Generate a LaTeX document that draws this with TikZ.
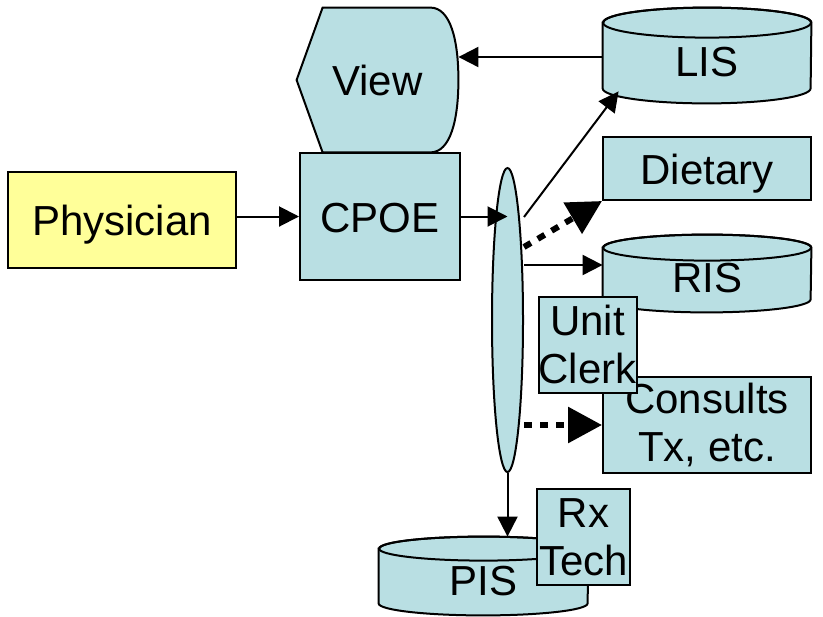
\documentclass[tikz,border=0pt]{standalone}
\usepackage{fontspec}
\setmainfont{Liberation Sans}
\usetikzlibrary{arrows.meta,calc,backgrounds,shapes.geometric}

\definecolor{boxblue}{RGB}{185,223,227}
\definecolor{boxyellow}{RGB}{255,255,153}

\tikzset{
  box/.style={draw, line width=1pt, fill=boxblue, inner sep=0pt, align=center,
    font=\fontsize{21}{24}\selectfont},
  oneline/.style={text height=18.5pt, text depth=3pt},
  dbody/.style={inner sep=0pt, minimum width=104pt, font=\fontsize{21}{24}\selectfont},
  arr/.style={line width=1pt, -{Triangle[length=10pt,width=10pt]}},
  dotarr/.style={line width=3pt, dash pattern=on 4pt off 4pt,
    -{Triangle[length=17pt,width=17.5pt]}},
}

% cylinder round a body node: name, x radius, y radius
\newcommand{\dbshape}[3]{%
  \draw[line width=1pt, fill=boxblue] (#1.north west) -- (#1.south west)
    arc[start angle=180, end angle=360, x radius=#2, y radius=#3] -- (#1.north east)
    arc[start angle=0, end angle=180, x radius=#2, y radius=#3] -- cycle;
  \draw[line width=1pt] (#1.north) ellipse[x radius=#2, y radius=#3];
}
\newcommand{\low}[2]{\raisebox{-#1}[\height][\depth]{#2}}

\begin{document}
\begin{tikzpicture}[x=0.5pt,y=-0.5pt]
  \useasboundingbox (0,0) rectangle (823,616);

  \node[box, oneline, fill=boxyellow, minimum width=114pt, minimum height=48pt] (phys) at (122,220) {Physician};
  \node[box, oneline, minimum width=80pt, minimum height=63.5pt] (cpoe) at (380,216.5) {CPOE};
  \node[oneline, inner sep=0pt, minimum width=80.5pt, minimum height=72pt,
    font=\fontsize{21}{24}\selectfont] (view) at (377.5,80) {View};

  % systems on the right
  \node[dbody, minimum height=32.5pt] (lis) at (707,55.5) {\low{3.25pt}{LIS}};
  \node[box, oneline, minimum width=104pt, minimum height=31.5pt] (diet) at (707,168.5) {Dietary};
  \node[dbody, minimum height=25.5pt] (ris) at (707,273.5) {\low{2.25pt}{RIS}};
  \node[box, minimum width=104pt, minimum height=48pt] (cons) at (707,425) {Consults\\Tx, etc.};
  \node[box, minimum width=48.5pt, minimum height=48pt] (clerk) at (587.5,344.5) {Unit\\Clerk};
  \node[dbody, minimum width=104.5pt, minimum height=27pt] (pis) at (483.5,576) {\low{2.5pt}{PIS}};
  \node[box, minimum width=46.5pt, minimum height=48pt] (rx) at (583.5,537) {Rx\\Tech};

  \begin{scope}[on background layer]
    \draw[line width=1pt, fill=boxblue] ($(view.north west)+(26,0)$) -- ($(view.north east)+(-28,0)$)
      .. controls ($(view.north east)+(-8,0)$) and ($(view.east)+(0,-40)$) .. (view.east)
      .. controls ($(view.east)+(0,40)$) and ($(view.south east)+(-8,0)$) .. ($(view.south east)+(-28,0)$)
      -- ($(view.south west)+(26,0)$) -- (view.west) -- cycle; % View
    \dbshape{lis}{52pt}{7.5pt}
    \dbshape{ris}{52pt}{6.5pt}
    \dbshape{pis}{52.25pt}{6pt}
  \end{scope}

  % bus
  \node[draw, line width=1pt, fill=boxblue, ellipse, inner sep=0pt,
    minimum width=15.5pt, minimum height=152pt] (bus) at (507.5,320) {};

  \coordinate (lisin) at ($(lis.south west)+(16,3)$);
  \coordinate (pisin) at ($(bus.south |- pis.north)+(0,-12)$);

  \draw[arr] (cpoe.west -| phys.east) -- (cpoe.west);
  \draw[arr] (cpoe) -- (cpoe -| bus);
  \draw[arr] (lis.west |- 0,57) -- (view.east |- 0,57);
  \draw[arr] (bus.east |- 0,217) -- (lisin);
  \draw[dotarr] (bus.east |- 0,247) -- (diet.south west);
  \draw[arr] (bus.east |- 0,265) -- (ris.west |- 0,265);
  \draw[dotarr] (bus.east |- cons.west) -- (cons.west);
  \draw[arr] (bus.south) -- (pisin);
\end{tikzpicture}
\end{document}
